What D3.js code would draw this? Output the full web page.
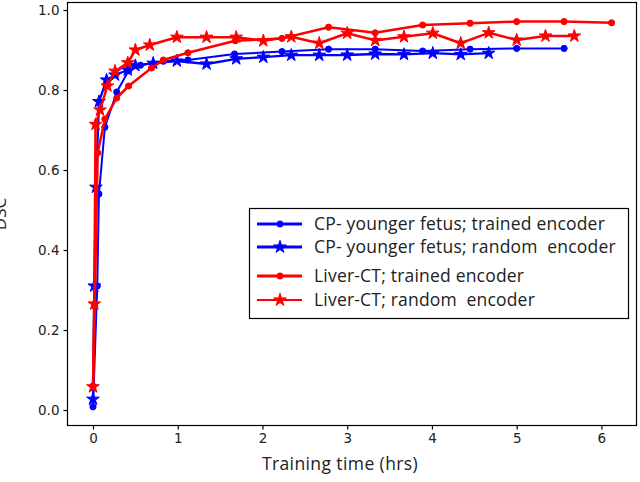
<!DOCTYPE html>
<html>
<head>
<meta charset="utf-8">
<script src="https://cdn.jsdelivr.net/npm/d3@7"></script>
<style>
body { margin: 0; background: #fff; }
svg { display: block; }
</style>
</head>
<body>
<div class="wrapper"></div>
<script>
let width = 640
let height = 482

// training time (hrs) and DSC per run
const cpTrained = [[0,0.008],[0.05,0.31],[0.07,0.54],[0.14,0.707],[0.28,0.795],[0.42,0.848],[0.56,0.862],[0.83,0.872],[1.12,0.875],[1.67,0.89],[2.23,0.896],[2.78,0.902],[3.33,0.902],[3.89,0.8975],[4.45,0.902],[5.0,0.904],[5.56,0.904]]
const cpRandom = [[0,0.027],[0.015,0.31],[0.035,0.557],[0.07,0.771],[0.16,0.825],[0.26,0.8375],[0.41,0.85],[0.5,0.861],[0.71,0.867],[0.99,0.8725],[1.34,0.865],[1.69,0.878],[2.01,0.882],[2.34,0.887],[2.67,0.887],[3.0,0.8875],[3.33,0.89],[3.67,0.889],[4.01,0.892],[4.34,0.889],[4.67,0.892]]
const liverTrained = [[0,0.06],[0.02,0.26],[0.055,0.643],[0.14,0.727],[0.28,0.78],[0.42,0.81],[0.69,0.855],[0.83,0.875],[1.12,0.893],[1.68,0.923],[2.23,0.929],[2.78,0.957],[3.33,0.943],[3.89,0.9625],[4.45,0.967],[5.0,0.971],[5.56,0.971],[6.12,0.968]]
const liverRandom = [[0,0.058],[0.015,0.265],[0.03,0.714],[0.083,0.75],[0.17,0.81],[0.26,0.847],[0.41,0.868],[0.5,0.9],[0.67,0.9125],[0.99,0.932],[1.34,0.932],[1.69,0.932],[2.01,0.923],[2.34,0.933],[2.67,0.917],[3.0,0.942],[3.33,0.924],[3.67,0.933],[4.01,0.942],[4.34,0.917],[4.67,0.943],[5.0,0.925],[5.34,0.935],[5.68,0.935]]

const seriesNames = ["CP- younger fetus; trained encoder", "CP- younger fetus; random  encoder", "Liver-CT; trained encoder", "Liver-CT; random  encoder"]
const xTicks = [0, 1, 2, 3, 4, 5, 6]
const yTicks = [0.0, 0.2, 0.4, 0.6, 0.8, 1.0]

let series = [
	{name: seriesNames[0], values: cpTrained, color: '#0000ff', marker: 'circle', lw: 2},
	{name: seriesNames[1], values: cpRandom, color: '#0000ff', marker: 'star', lw: 2.3},
	{name: seriesNames[2], values: liverTrained, color: '#ff0000', marker: 'circle', lw: 2.5},
	{name: seriesNames[3], values: liverRandom, color: '#ff0000', marker: 'star', lw: 2.5}
]

let margin = {top: 2, right: 3, bottom: 57, left: 67}

let x = d3.scaleLinear()
.domain([-0.307, 6.42])
.range([margin.left, width - margin.right])

let y = d3.scaleLinear()
.domain([-0.0375, 1.02])
.range([height - margin.bottom, margin.top])

let svg = d3.select('.wrapper').append('svg')
.attr('width', width)
.attr('height', height)

let line = d3.line()
.x(d => x(d[0]))
.y(d => y(d[1]))

let star = d3.symbol().type(d3.symbolStar).size(50)
let circle = d3.symbol().type(d3.symbolCircle).size(30)

const drawMarker = (g, s, px, py) => {
	g.append('path')
	.attr('d', s.marker === 'star' ? star() : circle())
	.attr('transform', 'translate(' + px + ',' + py + ')')
	.style('fill', s.color)
	.style('stroke', s.color)
	.style('stroke-width', 1)
}

// series
series.forEach(s => {
	let g = svg.append('g')

	g.append('path')
	.datum(s.values)
	.attr('d', line)
	.style('fill', 'none')
	.style('stroke', s.color)
	.style('stroke-width', s.lw)
	.style('stroke-linejoin', 'round')

	s.values.forEach(d => drawMarker(g, s, x(d[0]), y(d[1])))
})

// frame
svg.append('rect')
.attr('x', x.range()[0] + 0.5)
.attr('y', y.range()[1] + 0.5)
.attr('width', x.range()[1] - x.range()[0] - 1)
.attr('height', y.range()[0] - y.range()[1])
.style('fill', 'none')
.style('stroke', '#000')
.style('stroke-width', 1.2)

let xAxis = svg.append('g')
.attr('transform', 'translate(0,' + (y.range()[0] + 0.5) + ')')
.call(d3.axisBottom(x).tickValues(xTicks).tickFormat(d3.format('d')).tickSize(4).tickPadding(4))

let yAxis = svg.append('g')
.attr('transform', 'translate(' + (x.range()[0] + 0.5) + ',0)')
.call(d3.axisLeft(y).tickValues(yTicks).tickFormat(d3.format('.1f')).tickSize(4).tickPadding(4))

svg.selectAll('.domain').remove()
svg.selectAll('.tick line').style('stroke', '#000').style('stroke-width', 1.2)
svg.selectAll('.tick text')
.style('font-family', 'DejaVu Sans')
.style('font-size', '13.5px')
.style('fill', '#222')

svg.append('text')
.attr('x', 340)
.attr('y', 470)
.attr('text-anchor', 'middle')
.style('font-family', 'Open Sans')
.style('font-size', '17.5px')
.style('letter-spacing', '0.4px')
.style('fill', '#222')
.text('Training time (hrs)')

// y label sits half off the left edge, as in the source figure
svg.append('text')
.attr('transform', 'translate(6,214) rotate(-90)')
.attr('text-anchor', 'middle')
.style('font-family', 'Open Sans')
.style('font-size', '17px')
.style('fill', '#222')
.text('DSC')

// legend
let legend = svg.append('g')

legend.append('rect')
.attr('x', 249.5)
.attr('y', 208.5)
.attr('width', 379)
.attr('height', 110)
.style('fill', '#fff')
.style('stroke', '#000')
.style('stroke-width', 1.2)

const legendY = [224, 247, 276, 300]

series.forEach((s, i) => {
	let ly = legendY[i]
	legend.append('line')
	.attr('x1', 257)
	.attr('x2', 302)
	.attr('y1', ly)
	.attr('y2', ly)
	.style('stroke', s.color)
	.style('stroke-width', i === 3 ? 2 : 3)

	drawMarker(legend, s, 280, ly)

	legend.append('text')
	.attr('x', 314)
	.attr('y', ly + 6)
	.style('font-family', 'Open Sans')
	.style('font-size', '17.5px')
	.style('letter-spacing', '0.2px')
	.style('fill', '#222')
	.style('white-space', 'pre')
	.text(s.name)
})
</script>
</body>
</html>
